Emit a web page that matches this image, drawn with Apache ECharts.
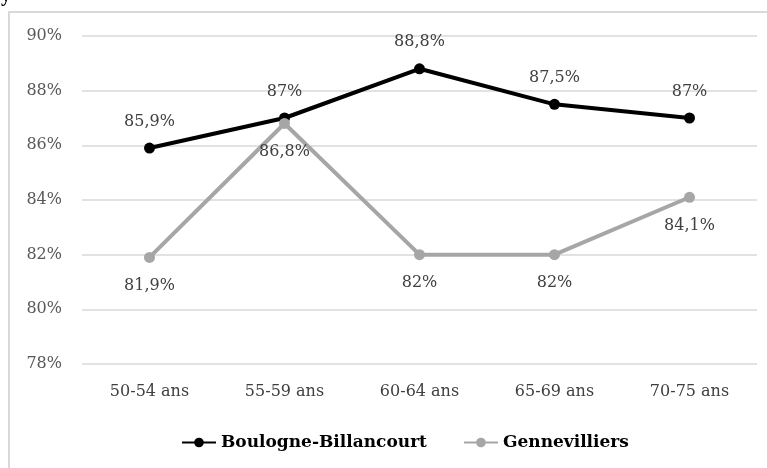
<!DOCTYPE html>
<html>
<head>
<meta charset="utf-8">
<script src="https://cdn.jsdelivr.net/npm/echarts@6/dist/echarts.min.js"></script>
<style>html,body{margin:0;padding:0;background:#fff}#c{width:767px;height:468px}</style>
</head>
<body>
<div id="c"></div>
<script>
var categories = ['50-54 ans', '55-59 ans', '60-64 ans', '65-69 ans', '70-75 ans'];
var boulogne = [85.9, 87, 88.8, 87.5, 87];
var gennevilliers = [81.9, 86.8, 82, 82, 84.1];
var seriesNames = ['Boulogne-Billancourt', 'Gennevilliers'];

var FONT = '"DejaVu Serif", "Liberation Serif", serif';
function fmt(v) {
  return String(v).replace('.', ',') + '%';
}
var chart = echarts.init(document.getElementById('c'), null, {renderer: 'canvas'});
chart.setOption({
  animation: false,
  backgroundColor: '#fff',
  graphic: [
    {type: 'rect', shape: {x: 9, y: 12, width: 800, height: 500}, style: {fill: 'none', stroke: '#d9d9d9', lineWidth: 2}, z: -1},
    {type: 'text', x: 1, y: -14, style: {text: 'y', font: 'bold 20px "Liberation Serif", serif', fill: '#000'}}
  ],
  grid: {left: 82, right: 10, top: 36, bottom: 104, containLabel: false},
  legend: {
    left: 176, top: 429,
    itemWidth: 34, itemHeight: 12, itemGap: 36,
    textStyle: {fontFamily: FONT, fontSize: 17, fontWeight: 'bold', color: '#000'},
    data: seriesNames
  },
  xAxis: {
    type: 'category', data: categories,
    axisLine: {show: false}, axisTick: {show: false},
    axisLabel: {fontFamily: FONT, fontSize: 16, color: '#404040', margin: 20}
  },
  yAxis: {
    type: 'value', min: 78, max: 90, interval: 2,
    axisLine: {show: false}, axisTick: {show: false},
    axisLabel: {fontFamily: FONT, fontSize: 16, color: '#595959', margin: 20, formatter: function(v){return v + '%';}},
    splitLine: {lineStyle: {color: '#d9d9d9', width: 1.5}}
  },
  series: [
    {
      name: seriesNames[0], type: 'line', data: boulogne,
      symbol: 'circle', symbolSize: 11,
      lineStyle: {color: '#000', width: 4}, itemStyle: {color: '#000'},
      label: {show: true, position: 'top', distance: 13, fontFamily: FONT, fontSize: 16, color: '#404040', formatter: function(p){return fmt(p.value);}}
    },
    {
      name: seriesNames[1], type: 'line', data: gennevilliers,
      symbol: 'circle', symbolSize: 11,
      lineStyle: {color: '#a6a6a6', width: 4}, itemStyle: {color: '#a6a6a6'},
      label: {show: true, position: 'bottom', distance: 15, fontFamily: FONT, fontSize: 16, color: '#404040', formatter: function(p){return fmt(p.value);}}
    }
  ]
});
</script>
</body>
</html>
